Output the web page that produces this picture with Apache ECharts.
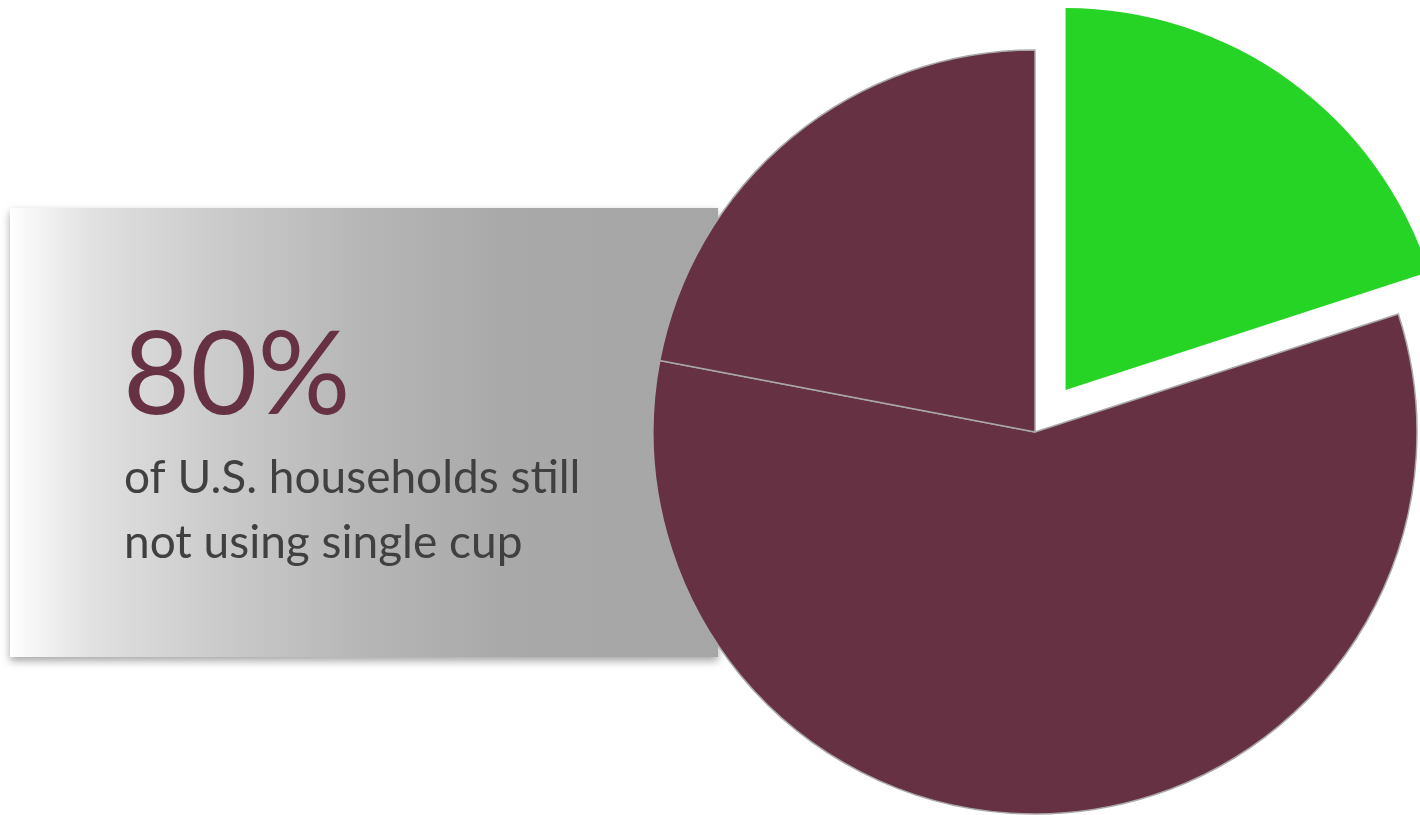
<!DOCTYPE html>
<html>
<head>
<meta charset="utf-8">
<script src="https://cdn.jsdelivr.net/npm/echarts@6/dist/echarts.min.js"></script>
<style>
html,body{margin:0;padding:0;background:#fff;}
#chart{width:1420px;height:815px;}
</style>
</head>
<body>
<div id="chart"></div>
<script>
// Data
const categories = ['Using single cup', 'Not using single cup', 'Not using single cup (other)'];
const values = [20, 58, 22];
const sliceColors = ['#26d426', '#663243', '#663243'];
const headline = '80%';
const subLines = ['of U.S. households still', 'not using single cup'];

const chart = echarts.init(document.getElementById('chart'), null, {renderer: 'canvas'});

const pieData = categories.map((c, i) => ({
  name: c,
  value: values[i],
  selected: i === 0,
  itemStyle: {
    color: sliceColors[i],
    borderColor: i === 0 ? 'rgba(0,0,0,0)' : '#a8a8a8',
    borderWidth: i === 0 ? 0 : 1.5
  }
}));

const FONT = 'Lato, "Open Sans", sans-serif';

chart.setOption({
  animation: false,
  backgroundColor: '#ffffff',
  graphic: {
    elements: [
      {
        type: 'rect',
        z: 0,
        shape: {x: 10, y: 208, width: 708, height: 449},
        style: {
          fill: new echarts.graphic.LinearGradient(0, 0, 1, 0, [
            {offset: 0, color: '#ffffff'},
            {offset: 0.03, color: '#f6f6f6'},
            {offset: 0.12, color: '#e0e0e0'},
            {offset: 0.3, color: '#cacaca'},
            {offset: 0.5, color: '#b6b6b6'},
            {offset: 0.7, color: '#a9a9a9'},
            {offset: 1, color: '#a6a6a6'}
          ]),
          shadowBlur: 8,
          shadowOffsetY: 4,
          shadowColor: 'rgba(0,0,0,0.35)'
        }
      },
      {
        type: 'text',
        z: 10,
        x: 123,
        y: 435,
        style: {
          text: headline,
          font: '400 116px ' + FONT,
          fill: '#663243',
          verticalAlign: 'bottom',
          shadowBlur: 4,
          shadowOffsetX: 2,
          shadowOffsetY: 3,
          shadowColor: 'rgba(0,0,0,0.35)'
        }
      },
      {
        type: 'text',
        z: 10,
        x: 124,
        y: 446,
        style: {
          text: subLines.join('\n'),
          font: '400 46px ' + FONT,
          lineHeight: 65,
          fill: '#404040',
          verticalAlign: 'top',
          shadowBlur: 3,
          shadowOffsetX: 2,
          shadowOffsetY: 3,
          shadowColor: 'rgba(0,0,0,0.35)'
        }
      }
    ]
  },
  series: [{
    type: 'pie',
    z: 2,
    center: [1035, 432],
    radius: [0, 382],
    startAngle: 90,
    clockwise: true,
    selectedMode: 'single',
    selectedOffset: 52,
    label: {show: false},
    labelLine: {show: false},
    emphasis: {disabled: true},
    silent: true,
    data: pieData
  }]
});
</script>
</body>
</html>
